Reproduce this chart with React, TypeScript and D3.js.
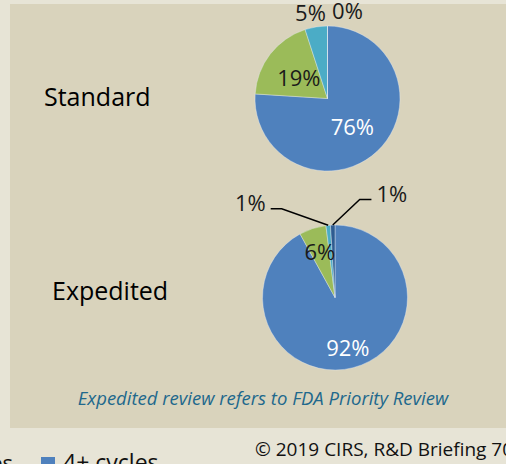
import * as React from 'react';
import * as d3 from 'd3';

// slice order, clockwise from 12 o'clock
const categories = ['1 cycle', '2 cycles', '3 cycles', '4+ cycles'];
const sliceColors = ['#4F81BD', '#9BBB59', '#4BACC6', '#2E5C91'];
const standardValues = [76, 19, 5, 0];
const expeditedValues = [92, 6, 1, 1];
const pieTitles = ['Standard', 'Expedited'];

const legendLabels = ['3 cycles', '4+ cycles'];
const legendColors = ['#4BACC6', '#4F81BD'];

const footnote = 'Expedited review refers to FDA Priority Review';
const copyright = '\u00A9 2019 CIRS, R&D Briefing 70';

const W = 506;
const H = 464;
const FONT = "'Open Sans', 'Noto Sans', sans-serif";

const App = () => {
  const nodeRef = React.useRef<SVGSVGElement>(null);

  React.useEffect(() => {
    const svg = d3.select(nodeRef.current);
    svg.selectAll('*').remove();

    svg.append('rect').attr('width', W).attr('height', H).attr('fill', '#E7E4D6');
    svg.append('rect')
      .attr('x', 10).attr('y', 4)
      .attr('width', W - 10).attr('height', 424)
      .attr('fill', '#D9D3BC');

    const r = 72.5;
    const pie = d3.pie<number>().sort(null).value(d => d);
    const arc = d3.arc<d3.PieArcDatum<number>>().innerRadius(0).outerRadius(r);

    const drawPie = (values: number[], cx: number, cy: number) => {
      const g = svg.append('g').attr('transform', 'translate(' + cx + ',' + cy + ')');
      const arcs = pie(values);
      g.selectAll('path')
        .data(arcs)
        .enter()
        .append('path')
        .attr('d', arc)
        .attr('fill', (d, i) => sliceColors[i])
        .attr('stroke', '#E9EEF5')
        .attr('stroke-width', 0.4);
      return { g, arcs };
    };

    // where a label sits along the slice's mid angle, as a share of r
    const at = (d: d3.PieArcDatum<number>, k: number) => {
      const a = (d.startAngle + d.endAngle) / 2;
      return [Math.sin(a) * r * k, -Math.cos(a) * r * k];
    };

    const label = (g: any, x: number, y: number, text: string, color: string, anchor = 'middle') => {
      g.append('text')
        .attr('x', x).attr('y', y)
        .attr('text-anchor', anchor)
        .attr('dominant-baseline', 'central')
        .attr('font-family', FONT)
        .attr('font-size', 22)
        .attr('fill', color)
        .text(text);
    };

    // Standard
    const s = drawPie(standardValues, 327.5, 98.5);
    let p = at(s.arcs[0], 0.5);
    label(s.g, p[0], p[1] + 1, standardValues[0] + '%', '#FFFFFF');
    p = at(s.arcs[1], 0.5);
    label(s.g, p[0], p[1] + 1, standardValues[1] + '%', '#1A1A1A');
    p = at(s.arcs[2], 1.24);
    label(s.g, p[0] - 3, p[1] + 2, standardValues[2] + '%', '#1A1A1A');
    p = at(s.arcs[3], 1.24);
    label(s.g, p[0] + 20, p[1] + 1, standardValues[3] + '%', '#1A1A1A');

    // Expedited
    const e = drawPie(expeditedValues, 335, 297.5);
    p = at(e.arcs[0], 0.71);
    label(e.g, p[0], p[1], expeditedValues[0] + '%', '#FFFFFF');
    p = at(e.arcs[1], 0.68);
    label(e.g, p[0], p[1], expeditedValues[1] + '%', '#1A1A1A');

    // leader lines for the thin slices
    const leader = (d: d3.PieArcDatum<number>, dx1: number, dy1: number, dx2: number, text: string) => {
      const [x0, y0] = at(d, 1);
      const x1 = x0 + dx1;
      const y1 = y0 + dy1;
      const x2 = x1 + dx2;
      e.g.append('path')
        .attr('d', d3.line()([[x0, y0], [x1, y1], [x2, y1]]))
        .attr('fill', 'none')
        .attr('stroke', '#000')
        .attr('stroke-width', 1.5);
      const right = dx2 > 0;
      label(e.g, x2 + (right ? 5 : -5), y1 - 7, text, '#1A1A1A', right ? 'start' : 'end');
    };
    leader(e.arcs[2], -46.5, -16.5, -11, expeditedValues[2] + '%');
    leader(e.arcs[3], 27, -25.5, 11.7, expeditedValues[3] + '%');

    // titles
    svg.append('text')
      .attr('x', 44).attr('y', 106)
      .attr('font-family', FONT).attr('font-size', 25).attr('fill', '#000')
      .text(pieTitles[0]);
    svg.append('text')
      .attr('x', 52).attr('y', 300)
      .attr('font-family', FONT).attr('font-size', 25).attr('fill', '#000')
      .text(pieTitles[1]);

    svg.append('text')
      .attr('x', 263).attr('y', 405)
      .attr('text-anchor', 'middle')
      .attr('font-family', FONT).attr('font-size', 18.5)
      .attr('font-style', 'italic')
      .attr('fill', '#21688C')
      .text(footnote);

    svg.append('text')
      .attr('x', 255).attr('y', 456)
      .attr('font-family', FONT).attr('font-size', 19)
      .attr('fill', '#111')
      .text(copyright);

    // legend, mostly cut off at the bottom-left
    const lg = svg.append('g');
    lg.append('text')
      .attr('x', 13).attr('y', 471)
      .attr('text-anchor', 'end')
      .attr('font-family', FONT).attr('font-size', 22).attr('fill', '#111')
      .text(legendLabels[0]);
    lg.append('rect')
      .attr('x', 41).attr('y', 457).attr('width', 14).attr('height', 14)
      .attr('fill', legendColors[1]);
    lg.append('text')
      .attr('x', 63).attr('y', 471)
      .attr('font-family', FONT).attr('font-size', 23).attr('fill', '#111')
      .text(legendLabels[1]);
  }, []);

  return (
    <svg
      ref={nodeRef}
      width={W}
      height={H}
      style={{ position: 'absolute', left: 0, top: 0, display: 'block' }}
    />
  );
};

export default App;
